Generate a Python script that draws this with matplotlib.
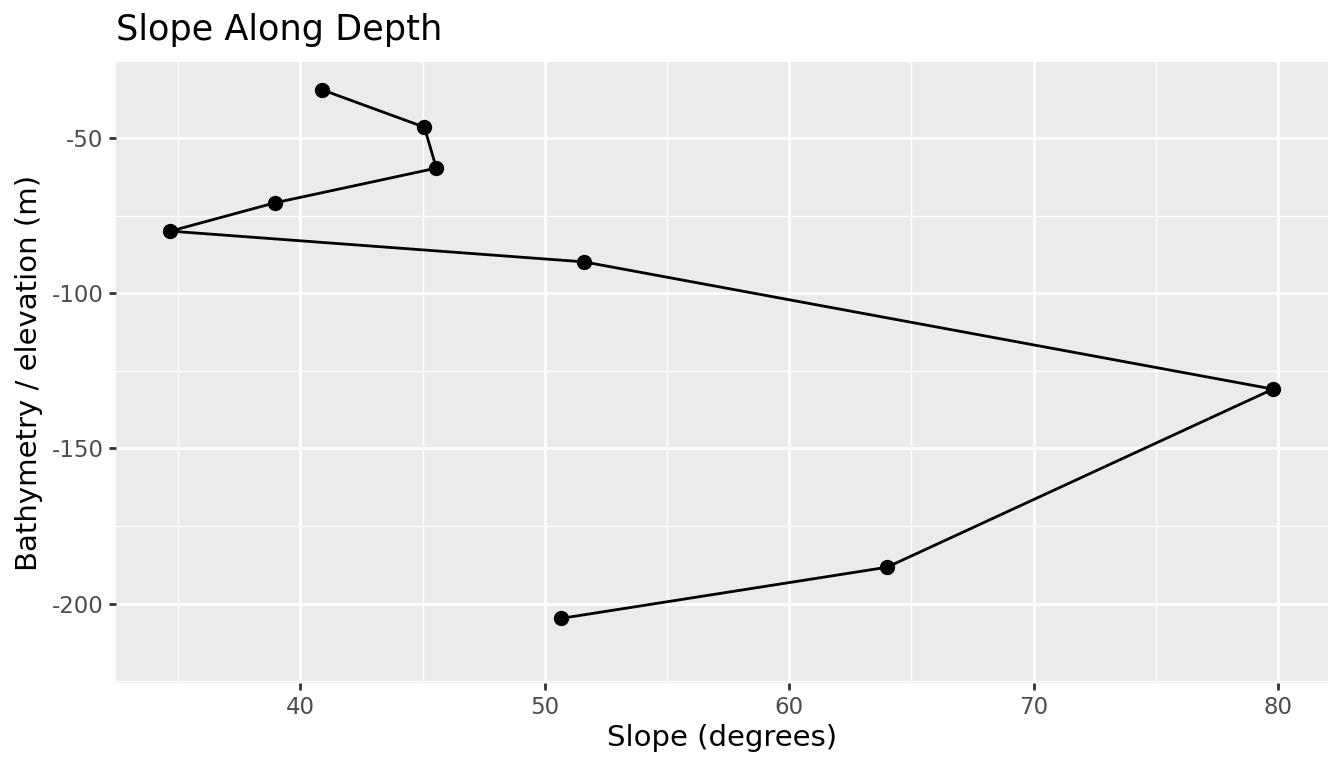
import matplotlib
matplotlib.use("Agg")
import matplotlib.pyplot as plt
from matplotlib.ticker import MultipleLocator

# slope readings along the depth profile
slope_deg = [40.9, 45.07, 45.56, 38.94, 34.68, 51.6, 79.8, 64.0, 50.65]
depth_m = [-34.5, -46.5, -59.7, -70.9, -80.0, -89.9, -130.9, -188.3, -204.8]

x_ticks = [40, 50, 60, 70, 80]
y_ticks = [-50, -100, -150, -200]

fig = plt.figure(figsize=(13.44, 7.68), dpi=100)
ax = fig.add_axes([116 / 1344, 1 - 683 / 768, (1328 - 116) / 1344, (683 - 62) / 768])

ax.set_facecolor("#EBEBEB")
for s in ax.spines.values():
    s.set_visible(False)

ax.set_xlim(32.45, 82.05)
ax.set_ylim(-225.6, -25.5)
ax.set_xticks(x_ticks)
ax.set_yticks(y_ticks)
ax.set_yticklabels([str(v) for v in y_ticks])
ax.xaxis.set_minor_locator(MultipleLocator(5))
ax.yaxis.set_minor_locator(MultipleLocator(25))

ax.grid(which="major", color="white", linewidth=2.0)
ax.grid(which="minor", color="white", linewidth=1.0)
ax.set_axisbelow(True)
ax.tick_params(which="major", length=5, width=2, color="#333333",
               labelsize=16.5, labelcolor="#4D4D4D", pad=4)
ax.tick_params(which="minor", length=0)

ax.plot(slope_deg, depth_m, color="black", linewidth=2.0, marker="o",
        markersize=10, zorder=3)

ax.set_xlabel("Slope (degrees)", fontsize=21, labelpad=4)
ax.set_ylabel("Bathymetry / elevation (m)", fontsize=21, labelpad=6)
fig.text(116 / 1344, 1 - 30 / 768, "Slope Along Depth", fontsize=25.3,
         ha="left", va="center")

fig.savefig("out.png", dpi=100)
